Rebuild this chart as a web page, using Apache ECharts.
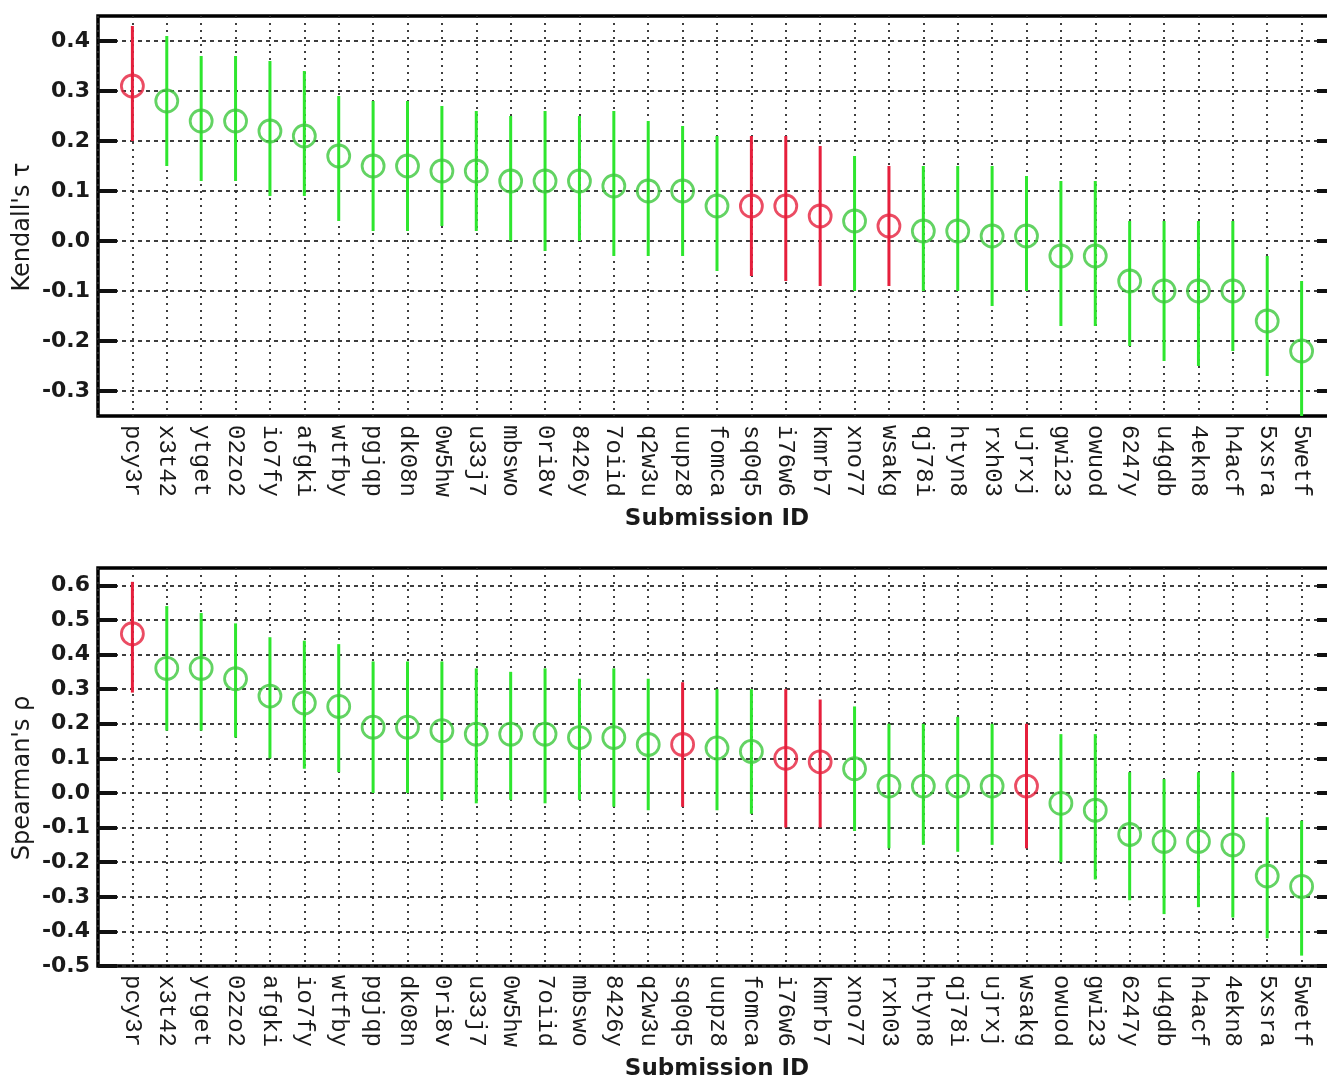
<!DOCTYPE html>
<html>
<head>
<meta charset="utf-8">
<script src="https://cdn.jsdelivr.net/npm/echarts@6/dist/echarts.min.js"></script>
<style>
  html, body { margin: 0; padding: 0; background: #fff; overflow: hidden; }
  #chart { width: 1345px; height: 1082px; }
</style>
</head>
<body>
<div id="chart"></div>
<script>
// submissions drawn in red
const highlighted = ['pcy3r', 'sq0q5', 'i76w6', 'kmrb7', 'wsakg']

// Kendall's tau panel
const kendallIds = ['pcy3r', 'x3t42', 'ytget', '02zo2', 'io7fy', 'afgki', 'wtfby', 'pgjqp', 'dk08n', '0w5hw',
  'u33j7', 'mbswo', '0ri8v', '8426y', '7oiid', 'q2w3u', 'uupz8', 'fomca', 'sq0q5', 'i76w6',
  'kmrb7', 'xno77', 'wsakg', 'qj78i', 'htyn8', 'rxh03', 'ujrxj', 'gwi23', 'owuod', '6247y',
  'u4gdb', '4ekn8', 'h4acf', '5xsra', '5wetf']
const kendallTau = [0.31, 0.28, 0.24, 0.24, 0.22, 0.21, 0.17, 0.15, 0.15, 0.14,
  0.14, 0.12, 0.12, 0.12, 0.11, 0.10, 0.10, 0.07, 0.07, 0.07,
  0.05, 0.04, 0.03, 0.02, 0.02, 0.01, 0.01, -0.03, -0.03, -0.08,
  -0.10, -0.10, -0.10, -0.16, -0.22]
const kendallHigh = [0.43, 0.41, 0.37, 0.37, 0.36, 0.34, 0.29, 0.28, 0.28, 0.27,
  0.26, 0.25, 0.26, 0.25, 0.26, 0.24, 0.23, 0.21, 0.21, 0.21,
  0.19, 0.17, 0.15, 0.15, 0.15, 0.15, 0.13, 0.12, 0.12, 0.04,
  0.04, 0.04, 0.04, -0.03, -0.08]
const kendallLow = [0.20, 0.15, 0.12, 0.12, 0.09, 0.09, 0.04, 0.02, 0.02, 0.03,
  0.02, 0.00, -0.02, 0.00, -0.03, -0.03, -0.03, -0.06, -0.07, -0.08,
  -0.09, -0.10, -0.09, -0.10, -0.10, -0.13, -0.10, -0.17, -0.17, -0.21,
  -0.24, -0.25, -0.22, -0.27, -0.36]
const kendallTicks = [-0.3, -0.2, -0.1, 0.0, 0.1, 0.2, 0.3, 0.4]

// Spearman's rho panel
const spearmanIds = ['pcy3r', 'x3t42', 'ytget', '02zo2', 'afgki', 'io7fy', 'wtfby', 'pgjqp', 'dk08n', '0ri8v',
  'u33j7', '0w5hw', '7oiid', 'mbswo', '8426y', 'q2w3u', 'sq0q5', 'uupz8', 'fomca', 'i76w6',
  'kmrb7', 'xno77', 'rxh03', 'htyn8', 'qj78i', 'ujrxj', 'wsakg', 'owuod', 'gwi23', '6247y',
  'u4gdb', 'h4acf', '4ekn8', '5xsra', '5wetf']
const spearmanRho = [0.46, 0.36, 0.36, 0.33, 0.28, 0.26, 0.25, 0.19, 0.19, 0.18,
  0.17, 0.17, 0.17, 0.16, 0.16, 0.14, 0.14, 0.13, 0.12, 0.10,
  0.09, 0.07, 0.02, 0.02, 0.02, 0.02, 0.02, -0.03, -0.05, -0.12,
  -0.14, -0.14, -0.15, -0.24, -0.27]
const spearmanHigh = [0.61, 0.54, 0.52, 0.49, 0.45, 0.44, 0.43, 0.38, 0.38, 0.38,
  0.36, 0.35, 0.36, 0.33, 0.36, 0.33, 0.32, 0.30, 0.30, 0.30,
  0.27, 0.25, 0.20, 0.20, 0.22, 0.20, 0.20, 0.17, 0.17, 0.06,
  0.04, 0.06, 0.06, -0.07, -0.08]
const spearmanLow = [0.29, 0.18, 0.18, 0.16, 0.10, 0.07, 0.06, 0.00, 0.00, -0.02,
  -0.03, -0.02, -0.03, -0.02, -0.04, -0.05, -0.04, -0.05, -0.06, -0.10,
  -0.10, -0.11, -0.16, -0.15, -0.17, -0.15, -0.16, -0.20, -0.25, -0.31,
  -0.35, -0.33, -0.36, -0.42, -0.47]
const spearmanTicks = [-0.5, -0.4, -0.3, -0.2, -0.1, 0.0, 0.1, 0.2, 0.3, 0.4, 0.5, 0.6]

const RED = '#e61f3c'
const GREEN_LINE = '#2ee62e'
const GREEN_RING = '#3cc83c'
const gridColor = '#2a2a2a'
const sansFont = "'DejaVu Sans', 'Liberation Sans', Arial, sans-serif"

const isRed = (id) => highlighted.includes(id)

function xAxisFor(gridIndex, ids) {
  return {
    type: 'value',
    gridIndex,
    min: 0,
    max: ids.length + 1,
    interval: 1,
    name: 'Submission ID',
    nameLocation: 'middle',
    nameGap: 92,
    nameTextStyle: { fontFamily: sansFont, fontSize: 23, fontWeight: 'bold', color: '#1a1a1a' },
    axisLine: { show: false },
    axisTick: { show: false },
    axisLabel: {
      rotate: -90,
      margin: 9,
      fontFamily: "'Liberation Mono', 'DejaVu Sans Mono', monospace",
      fontSize: 24,
      color: '#1a1a1a',
      formatter: (v) => ids[v - 1] || ''
    },
    splitLine: { show: true, lineStyle: { color: gridColor, width: 1.8, type: [2, 5] } }
  }
}

function yAxesFor(gridIndex, min, max, ticks, name) {
  const tickStyle = { show: true, inside: true, length: 19, customValues: ticks, lineStyle: { color: '#111', width: 4 } }
  return [
    {
      type: 'value',
      gridIndex,
      min,
      max,
      name,
      nameLocation: 'middle',
      nameGap: 63,
      nameMoveOverlap: false,
      nameRotate: 90,
      nameTextStyle: { fontFamily: sansFont, fontSize: 24, color: '#1a1a1a', padding: [0, 22, 0, 0] },
      axisLine: { show: false },
      axisTick: tickStyle,
      axisLabel: {
        customValues: ticks,
        margin: 8,
        fontFamily: sansFont,
        fontSize: 22,
        fontWeight: 'bold',
        color: '#1a1a1a',
        formatter: (v) => v.toFixed(1)
      },
      splitLine: { show: true, lineStyle: { color: gridColor, width: 1.8, type: [4, 4] } }
    },
    {
      type: 'value',
      gridIndex,
      position: 'right',
      min,
      max,
      axisLine: { show: false },
      axisTick: tickStyle,
      axisLabel: { show: false },
      splitLine: { show: false }
    }
  ]
}

function errorBarSeries(idx, ids, low, high) {
  return {
    type: 'custom',
    xAxisIndex: idx,
    yAxisIndex: idx * 2,
    z: 2,
    data: ids.map((id, i) => [i + 1, low[i], high[i]]),
    renderItem: (params, api) => {
      const a = api.coord([api.value(0), api.value(1)])
      const b = api.coord([api.value(0), api.value(2)])
      const cs = params.coordSys
      const clampY = (y) => Math.min(Math.max(y, cs.y), cs.y + cs.height)
      return {
        type: 'line',
        shape: { x1: a[0], y1: clampY(a[1]), x2: b[0], y2: clampY(b[1]) },
        style: { stroke: isRed(ids[params.dataIndex]) ? RED : GREEN_LINE, lineWidth: 3 }
      }
    }
  }
}

function pointSeries(idx, ids, vals) {
  return {
    type: 'scatter',
    xAxisIndex: idx,
    yAxisIndex: idx * 2,
    z: 3,
    symbol: 'circle',
    symbolSize: 22,
    itemStyle: { color: 'rgba(0,0,0,0)', borderWidth: 2.8 },
    data: ids.map((id, i) => ({
      value: [i + 1, vals[i]],
      itemStyle: { borderColor: isRed(id) ? RED : GREEN_RING }
    }))
  }
}

const chart = echarts.init(document.getElementById('chart'), null, { renderer: 'canvas' })

const gridBase = { show: true, left: 98, width: 1238, height: 400, borderColor: '#000', borderWidth: 3.5, backgroundColor: 'transparent' }

chart.setOption({
  animation: false,
  backgroundColor: '#fff',
  grid: [
    Object.assign({ top: 16 }, gridBase),
    Object.assign({ top: 568 }, gridBase)
  ],
  xAxis: [xAxisFor(0, kendallIds), xAxisFor(1, spearmanIds)],
  yAxis: [
    ...yAxesFor(0, -0.35, 0.45, kendallTicks, "Kendall's τ"),
    ...yAxesFor(1, -0.5, 0.65, spearmanTicks, "Spearman's ρ")
  ],
  series: [
    errorBarSeries(0, kendallIds, kendallLow, kendallHigh),
    pointSeries(0, kendallIds, kendallTau),
    errorBarSeries(1, spearmanIds, spearmanLow, spearmanHigh),
    pointSeries(1, spearmanIds, spearmanRho)
  ]
})

window.addEventListener('resize', () => chart.resize())
</script>
</body>
</html>
